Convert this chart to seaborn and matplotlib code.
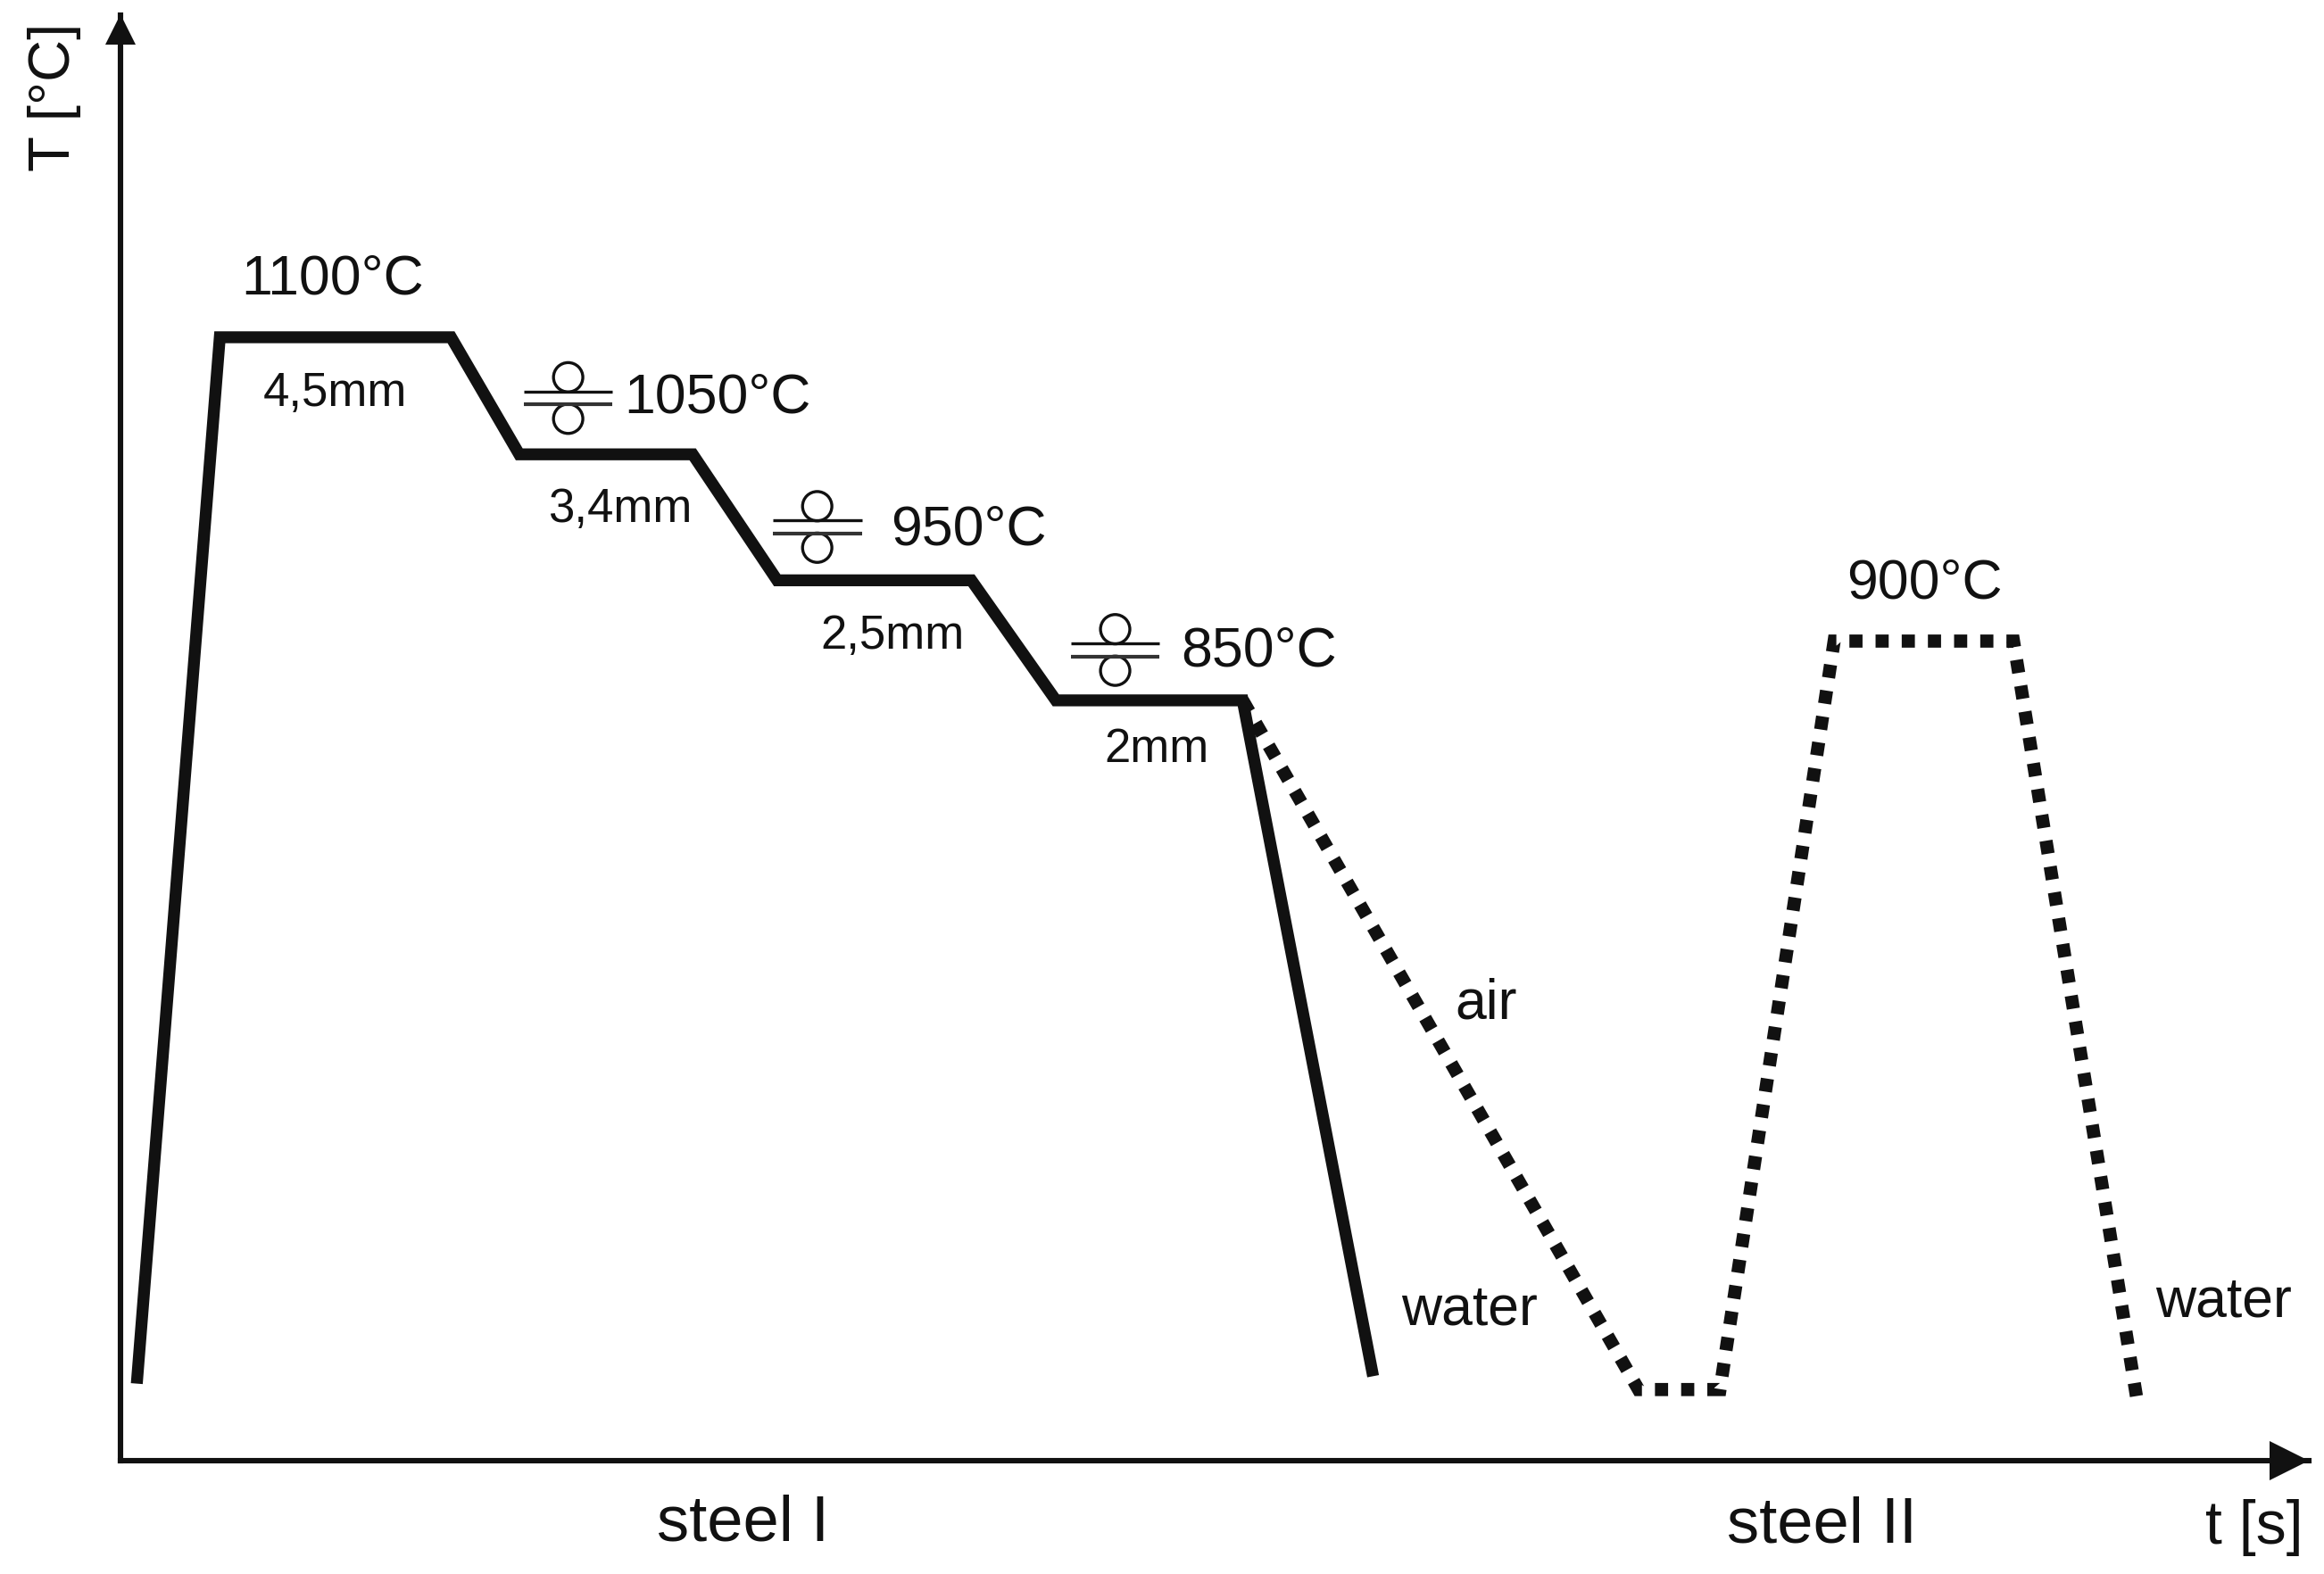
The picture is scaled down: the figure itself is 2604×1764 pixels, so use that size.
import matplotlib
matplotlib.use("Agg")
import matplotlib.pyplot as plt
import seaborn as sns

# Schematic process curves (arbitrary time and temperature units)
steel1_t = [11, 67, 223, 269, 386, 443, 574, 631, 757, 845]
steel1_T = [52, 758, 758, 679, 679, 594, 594, 513, 513, 57]
steel2_t = [757, 1024, 1079, 1156, 1277, 1360]
steel2_T = [513, 48, 48, 553, 553, 43]

temp_labels = ["1100°C", "1050°C", "950°C", "850°C", "900°C"]
temp_t = [143, 403, 572, 768, 1217]
temp_T = [797, 717, 628, 546, 592]

thick_labels = ["4,5mm", "3,4mm", "2,5mm", "2mm"]
thick_t = [145, 337, 521, 699]
thick_T = [720, 642, 556, 480]

cool_labels = ["air", "water", "water"]
cool_t = [921, 910, 1419]
cool_T = [308, 102, 107]

steel_labels = ["steel I", "steel II"]
steel_t = [420, 1148]
steel_T = [-43, -44]

# Rolling passes: centre of each mill symbol
mill_t = [302, 470, 671]
mill_T = [717, 630, 547]
mill_half_width = 30
mill_gap = 4.3
mill_roll = 14

W, H, DPI = 2604, 1764, 100
x0, x1, y0, y1 = 135, 2587, 1637, 17   # axes rectangle in pixels
unit = 1.661

sns.set_theme(style="white")
plt.rcParams["font.family"] = ["Liberation Sans", "DejaVu Sans"]
plt.rcParams["text.color"] = "#111111"

fig = plt.figure(figsize=(W / DPI, H / DPI), dpi=DPI, facecolor="white")
ax = fig.add_axes([x0 / W, 1 - y0 / H, (x1 - x0) / W, (y0 - y1) / H])
ax.set_xlim(0, (x1 - x0) / unit)
ax.set_ylim(0, (y0 - y1) / unit)
ax.set_facecolor("none")

sns.despine(ax=ax)
for side in ("left", "bottom"):
    ax.spines[side].set_linewidth(4.4)
    ax.spines[side].set_color("#111111")
ax.set_xticks([])
ax.set_yticks([])

sns.lineplot(x=steel1_t, y=steel1_T, sort=False, estimator=None, errorbar=None,
             color="#111111", linewidth=9.6, solid_joinstyle="miter",
             solid_capstyle="butt", ax=ax)
sns.lineplot(x=steel2_t, y=steel2_T, sort=False, estimator=None, errorbar=None,
             color="#111111", linewidth=10.6, linestyle=(0, (1.0, 0.992)),
             dash_capstyle="butt", dash_joinstyle="miter", ax=ax)

# Arrow heads at the ends of the axes
ax.plot(1 - 22 / (x1 - x0), 0, marker=">", ms=32, color="#111111", mew=0,
        clip_on=False, transform=ax.transAxes, zorder=5)
ax.plot(0, 1 - 16 / (y0 - y1), marker="^", ms=24, color="#111111", mew=0,
        clip_on=False, transform=ax.transAxes, zorder=5)

# Mill symbols
for t, T in zip(mill_t, mill_T):
    ax.hlines(T + mill_gap, t - mill_half_width, t + mill_half_width,
              color="#111111", linewidth=2.4)
    ax.hlines(T - mill_gap, t - mill_half_width, t + mill_half_width,
              color="#333333", linewidth=3.0)
    ax.scatter([t, t], [T + mill_roll, T - mill_roll], s=560, facecolors="none",
               edgecolors="#111111", linewidths=2.4)

def put(labels, ts, Ts, size):
    for s, t, T in zip(labels, ts, Ts):
        ax.text(t, T, s, fontsize=size, ha="center", va="center", clip_on=False)

put(temp_labels, temp_t, temp_T, 45)
put(thick_labels, thick_t, thick_T, 38)
put(cool_labels, cool_t, cool_T, 45)
put(steel_labels, steel_t, steel_T, 52)

ax.set_xlabel("t [s]", fontsize=49, color="#111111", visible=True, va="center")
ax.xaxis.set_label_coords((2526 - x0) / (x1 - x0), -(1712 - y0) / (y0 - y1),
                          transform=ax.transAxes)
ax.set_ylabel("T [°C]", fontsize=47, color="#111111", rotation=90, visible=True,
              va="center")
ax.yaxis.set_label_coords(-(135 - 61) / (x1 - x0), (y0 - 109) / (y0 - y1),
                          transform=ax.transAxes)

fig.savefig("out.png", dpi=DPI, facecolor="white")
